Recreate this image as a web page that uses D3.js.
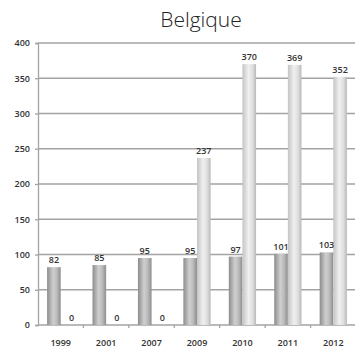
<!DOCTYPE html>
<html>
<head>
<meta charset="utf-8">
<script src="https://cdn.jsdelivr.net/npm/d3@7"></script>
<style>
  body { margin: 0; background: #fff; }
  svg { display: block; }
</style>
</head>
<body>
<svg id="chart" width="355" height="354"></svg>
<script>
// data
const years = ['1999', '2001', '2007', '2009', '2010', '2011', '2012']
const seriesA = [82, 85, 95, 95, 97, 101, 103]
const seriesB = [0, 0, 0, 237, 370, 369, 352]
const yTicks = [0, 50, 100, 150, 200, 250, 300, 350, 400]

const svg = d3.select('#chart')
const fontLabels = '"Open Sans", "DejaVu Sans", sans-serif'

const x = d3.scaleBand().domain(years).range([38, 356]).padding(0)
const inner = d3.scaleBand().domain([0, 1]).range([0, x.bandwidth()])
	.paddingInner(0).paddingOuter(0.667)
const y = d3.scaleLinear().domain([0, 400]).range([325, 43])

// gradients for the cylinder look
const defs = svg.append('defs')
function grad(id, stops) {
	const g = defs.append('linearGradient').attr('id', id)
		.attr('x1', 0).attr('x2', 1).attr('y1', 0).attr('y2', 0)
	stops.forEach(s => g.append('stop').attr('offset', s[0]).attr('stop-color', s[1]))
}
grad('gDark', [[0, '#8c8c8c'], [0.45, '#cfcfcf'], [0.7, '#bdbdbd'], [1, '#8e8e8e']])
grad('gLight', [[0, '#c4c4c4'], [0.45, '#f0f0f0'], [0.75, '#dedede'], [1, '#b9b9b9']])

// title
svg.append('text')
	.attr('x', 201).attr('y', 27)
	.attr('text-anchor', 'middle')
	.attr('font-family', fontLabels)
	.attr('font-size', 21)
	.attr('font-weight', 300)
	.attr('fill', '#222')
	.text('Belgique')

// gridlines
svg.append('g').selectAll('line')
	.data(yTicks.filter(d => d > 0))
	.enter().append('line')
	.attr('x1', 38).attr('x2', 356)
	.attr('y1', d => y(d)).attr('y2', d => y(d))
	.attr('stroke', '#a3a3a3').attr('stroke-width', 1.3)

// left axis
const yAxis = d3.axisLeft(y).tickValues(yTicks).tickSize(3).tickPadding(5)
const gy = svg.append('g').attr('transform', 'translate(38,0)').call(yAxis)
gy.select('.domain').attr('stroke', '#a3a3a3').attr('stroke-width', 1.3)
gy.selectAll('.tick line').attr('stroke', '#a3a3a3').attr('stroke-width', 1.3)
gy.selectAll('text')
	.attr('font-family', fontLabels).attr('font-size', 9)
	.attr('font-weight', 600).attr('fill', '#333')

// bottom axis
svg.append('line')
	.attr('x1', 38).attr('x2', 356).attr('y1', y(0)).attr('y2', y(0))
	.attr('stroke', '#a3a3a3').attr('stroke-width', 1.3)
svg.append('g').selectAll('line')
	.data(years.slice(1))
	.enter().append('line')
	.attr('x1', d => x(d)).attr('x2', d => x(d))
	.attr('y1', y(0)).attr('y2', y(0) + 3)
	.attr('stroke', '#a3a3a3').attr('stroke-width', 1.3)
svg.append('g').selectAll('text')
	.data(years)
	.enter().append('text')
	.attr('x', d => x(d) + x.bandwidth() / 2)
	.attr('y', 346)
	.attr('text-anchor', 'middle')
	.attr('font-family', fontLabels).attr('font-size', 9)
	.attr('font-weight', 600).attr('fill', '#333')
	.text(d => d)

// bars
const rows = years.map((yr, i) => [
	{ year: yr, s: 0, v: seriesA[i] },
	{ year: yr, s: 1, v: seriesB[i] }
])
const groups = svg.append('g').selectAll('g')
	.data(rows)
	.enter().append('g')
	.attr('transform', d => `translate(${x(d[0].year)},0)`)

groups.selectAll('rect')
	.data(d => d)
	.enter().append('rect')
	.attr('x', d => inner(d.s))
	.attr('width', inner.bandwidth())
	.attr('y', d => y(d.v))
	.attr('height', d => y(0) - y(d.v))
	.attr('fill', d => d.s === 0 ? 'url(#gDark)' : 'url(#gLight)')

groups.selectAll('text')
	.data(d => d)
	.enter().append('text')
	.attr('x', d => inner(d.s) + inner.bandwidth() / 2 + (d.v === 0 ? 4 : 0))
	.attr('y', d => y(d.v) - 4)
	.attr('text-anchor', 'middle')
	.attr('font-family', fontLabels).attr('font-size', 9)
	.attr('font-weight', 600).attr('fill', '#333')
	.text(d => d.v)
</script>
</body>
</html>
